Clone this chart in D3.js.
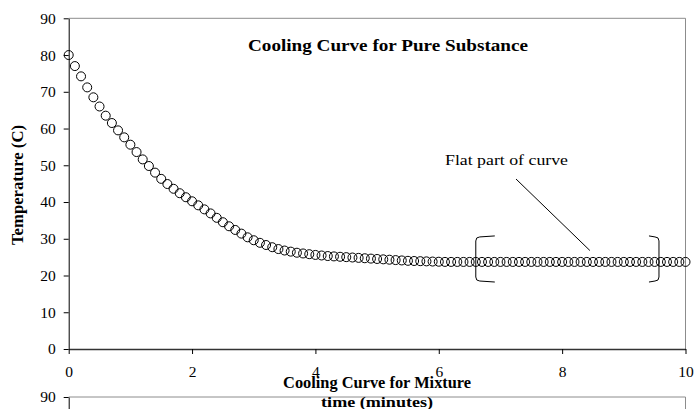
<!DOCTYPE html>
<html>
<head>
<meta charset="utf-8">
<script src="https://cdn.jsdelivr.net/npm/d3@7"></script>
<style>
  html, body { margin: 0; padding: 0; background: #fff; }
  svg { display: block; }
  text { font-family: "Liberation Serif", "Times New Roman", serif; fill: #000; }
</style>
</head>
<body>
<svg id="chart" width="697" height="409"></svg>
<script>
// ---- data ----
const timeMinutes = [
  0.0,0.1,0.2,0.3,0.4,0.5,0.6,0.7,0.8,0.9,
  1.0,1.1,1.2,1.3,1.4,1.5,1.6,1.7,1.8,1.9,
  2.0,2.1,2.2,2.3,2.4,2.5,2.6,2.7,2.8,2.9,
  3.0,3.1,3.2,3.3,3.4,3.5,3.6,3.7,3.8,3.9,
  4.0,4.1,4.2,4.3,4.4,4.5,4.6,4.7,4.8,4.9,
  5.0,5.1,5.2,5.3,5.4,5.5,5.6,5.7,5.8,5.9,
  6.0,6.1,6.2,6.3,6.4,6.5,6.6,6.7,6.8,6.9,
  7.0,7.1,7.2,7.3,7.4,7.5,7.6,7.7,7.8,7.9,
  8.0,8.1,8.2,8.3,8.4,8.5,8.6,8.7,8.8,8.9,
  9.0,9.1,9.2,9.3,9.4,9.5,9.6,9.7,9.8,9.9,
  10.0
];
const temperatureC = [
  80.0,77.0,74.2,71.2,68.5,66.0,63.5,61.5,59.5,57.6,
  55.6,53.6,51.6,49.8,48.0,46.3,44.9,43.6,42.4,41.3,
  40.2,39.1,38.0,36.9,35.7,34.5,33.4,32.4,31.4,30.4,
  29.6,28.9,28.3,27.7,27.2,26.8,26.5,26.2,26.0,25.8,
  25.6,25.45,25.3,25.2,25.1,25.0,24.9,24.8,24.7,24.6,
  24.5,24.4,24.3,24.2,24.1,24.0,23.95,23.9,23.85,23.8,
  23.75,23.7,23.7,23.7,23.7,23.7,23.7,23.7,23.7,23.7,
  23.7,23.7,23.7,23.7,23.7,23.7,23.7,23.7,23.7,23.7,
  23.7,23.7,23.7,23.7,23.7,23.7,23.7,23.7,23.7,23.7,
  23.7,23.7,23.7,23.7,23.7,23.7,23.7,23.7,23.7,23.7,
  23.7
];
const xTicks = [0, 2, 4, 6, 8, 10];
const yTicks = [0, 10, 20, 30, 40, 50, 60, 70, 80, 90];
const chartTitle = "Cooling Curve for Pure Substance";
const xLabel = "time (minutes)";
const yLabel = "Temperature (C)";
const annotationText = "Flat part of curve";
const flatStart = 6.6, flatEnd = 9.57, flatLow = 18.5, flatHigh = 30.5;
const annotationAnchor = { t: 8.45, v: 26.8 };
const secondTitle = "Cooling Curve for Mixture";

// ---- layout ----
const W = 697, H = 409;
const svg = d3.select("#chart");
const pL = 68.7, pR = 685.5, pT = 18.3, pB = 349;
const pMid = (pL + pR) / 2;
const x = d3.scaleLinear().domain([0, 10]).range([pL, pR]);
const y = d3.scaleLinear().domain([0, 90]).range([pB, pT]);

// plot border (top/right)
svg.append("path")
  .attr("d", `M${pL},${pT}H${pR}V${pB}`)
  .attr("fill", "none").attr("stroke", "#8c8c8c").attr("stroke-width", 1);

// axes
const yAxis = svg.append("g").attr("transform", `translate(${pL},0)`)
  .call(d3.axisLeft(y).tickValues(yTicks).tickSize(5).tickSizeOuter(0).tickPadding(8));
const xAxis = svg.append("g").attr("transform", `translate(0,${pB})`)
  .call(d3.axisBottom(x).tickValues(xTicks).tickSize(5).tickSizeOuter(0).tickPadding(12));
[yAxis, xAxis].forEach(g => {
  g.selectAll("path, line").attr("stroke", "#000");
  g.selectAll("text").style("font-family", '"Liberation Serif", serif')
    .style("font-size", "15.5px").attr("fill", "#000");
});
xAxis.select(".domain").attr("stroke", "#333").attr("stroke-width", 1.6);

// title
svg.append("text").attr("x", 388).attr("y", 51).attr("text-anchor", "middle")
  .attr("textLength", 280).attr("lengthAdjust", "spacingAndGlyphs")
  .style("font-size", "16px").style("font-weight", "bold").text(chartTitle);

// y label
svg.append("text").attr("transform", `translate(23,185) rotate(-90)`)
  .attr("text-anchor", "middle").attr("textLength", 120).attr("lengthAdjust", "spacingAndGlyphs")
  .style("font-size", "16px").style("font-weight", "bold")
  .text(yLabel);

// points
svg.append("g").selectAll("circle")
  .data(timeMinutes.map((t, i) => ({ t, v: temperatureC[i] })))
  .join("circle")
  .attr("cx", d => x(d.t)).attr("cy", d => y(d.v)).attr("r", 4.5)
  .attr("fill", "none").attr("stroke", "#000").attr("stroke-width", 1);

// annotation brackets
const xl = x(flatStart), xr = x(flatEnd), yt = y(flatHigh), yb = y(flatLow);
svg.append("path")
  .attr("d", `M${xl + 19},${yt - 1} L${xl + 4},${yt} Q${xl},${yt} ${xl},${yt + 4} L${xl},${yb - 4} Q${xl},${yb} ${xl + 4},${yb} L${xl + 19},${yb + 1}`)
  .attr("fill", "none").attr("stroke", "#000").attr("stroke-width", 1);
svg.append("path")
  .attr("d", `M${xr - 10},${yt - 1} L${xr - 4},${yt} Q${xr},${yt} ${xr},${yt + 4} L${xr},${yb - 4} Q${xr},${yb} ${xr - 4},${yb} L${xr - 10},${yb + 1}`)
  .attr("fill", "none").attr("stroke", "#000").attr("stroke-width", 1);

// annotation text + leader line
svg.append("text").attr("x", 506.5).attr("y", 164.5).attr("text-anchor", "middle")
  .attr("textLength", 123).attr("lengthAdjust", "spacingAndGlyphs")
  .style("font-size", "15px").text(annotationText);
svg.append("line")
  .attr("x1", 516).attr("y1", 179)
  .attr("x2", x(annotationAnchor.t)).attr("y2", y(annotationAnchor.v))
  .attr("stroke", "#000").attr("stroke-width", 1);

// ---- second (mixture) chart, mostly cut off ----
const pT2 = 397;
const y2 = d3.scaleLinear().domain([0, 90]).range([pT2 + (pB - pT), pT2]);
svg.append("path")
  .attr("d", `M${pL},${pT2}H${pR}V${pT2 + 40}`)
  .attr("fill", "none").attr("stroke", "#8c8c8c").attr("stroke-width", 1);
const yAxis2 = svg.append("g").attr("transform", `translate(${pL},0)`)
  .call(d3.axisLeft(y2).tickValues(yTicks.filter(v => y2(v) < H - 6))
    .tickSize(5).tickSizeOuter(0).tickPadding(8));
yAxis2.selectAll("path, line").attr("stroke", "#000");
yAxis2.selectAll("text").style("font-family", '"Liberation Serif", serif')
  .style("font-size", "15.5px").attr("fill", "#000");

// second chart title and first chart's x label overlapping
svg.append("text").attr("x", pMid).attr("y", 388).attr("text-anchor", "middle")
  .attr("textLength", 188).attr("lengthAdjust", "spacingAndGlyphs")
  .style("font-size", "16px").style("font-weight", "bold").text(secondTitle);
svg.append("text").attr("x", pMid).attr("y", 406.5).attr("text-anchor", "middle")
  .attr("textLength", 112).attr("lengthAdjust", "spacingAndGlyphs")
  .style("font-size", "15px").style("font-weight", "bold").text(xLabel);
</script>
</body>
</html>
